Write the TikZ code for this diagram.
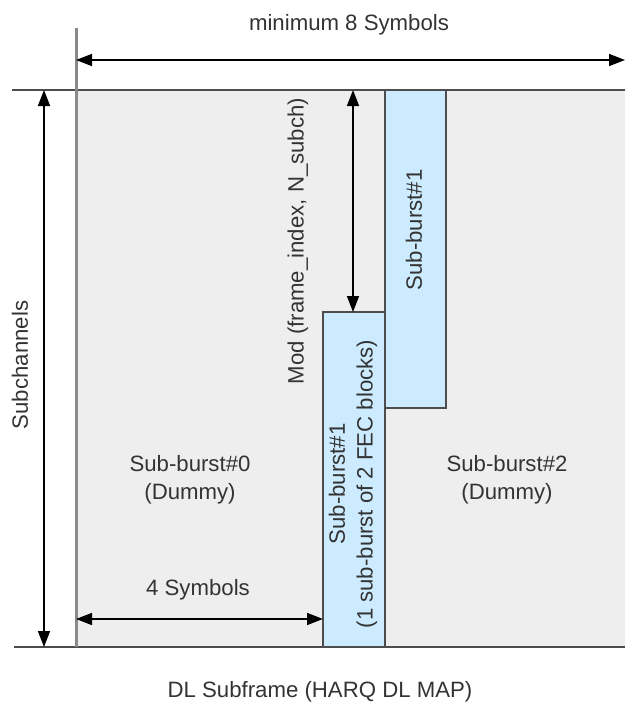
\documentclass[tikz,border=0pt]{standalone}
\usepackage{fontspec}
\setmainfont{Liberation Sans}
\usetikzlibrary{arrows.meta}
\definecolor{framegray}{HTML}{EEEEEE}
\definecolor{burstblue}{HTML}{CCEBFF}
\definecolor{linegray}{HTML}{4D4D4D}
\definecolor{axisgray}{HTML}{8A8A8A}
\definecolor{textgray}{HTML}{333333}
\begin{document}
\begin{tikzpicture}[x=0.5pt,y=-0.5pt,
  dim/.style={{Triangle[length=8pt,width=6pt]}-{Triangle[length=8pt,width=6pt]},line width=0.8pt},
  lbl/.style={text=textgray,font=\fontsize{11.1}{13.8}\selectfont,inner sep=0pt,align=center},
  burst/.style={draw=linegray,fill=burstblue,line width=0.8pt}]
\useasboundingbox (0,0) rectangle (625,709);
\pgfmathsetmacro{\xl}{76}
\pgfmathsetmacro{\xr}{625}
\pgfmathsetmacro{\yt}{90}
\pgfmathsetmacro{\yb}{647}
\pgfmathsetmacro{\xa}{323}
\pgfmathsetmacro{\xb}{385}
\pgfmathsetmacro{\xc}{446}
%
\fill[framegray](\xl,\yt)rectangle(\xr,\yb);
\draw[burst](\xa,312)rectangle(\xb,\yb);
\draw[burst](\xb,\yt)rectangle(\xc,408);
\draw[linegray,line width=1pt](12,\yt)--(\xr,\yt);
\draw[linegray,line width=1pt](14,\yb)--(\xr,\yb);
\draw[axisgray,line width=1.5pt](\xl,28)--(\xl,\yb);
%
\coordinate(symL)at(\xl,60);
\coordinate(symR)at(\xr,60);
\coordinate(subT)at(44,\yt);
\coordinate(subB)at(44,\yb);
\coordinate(modT)at(353,\yt);
\coordinate(modB)at(353,312);
\coordinate(fourL)at(\xl,619);
\coordinate(fourR)at(\xa,619);
\draw[dim](symL)--(symR);
\draw[dim](subT)--(subB);
\draw[dim](modT)--(modB);
\draw[dim](fourL)--(fourR);
%
\node[lbl](minsym)at(349,25){minimum 8 Symbols};
\node[lbl,rotate=90](subch)at(20,365){Subchannels};
\node[lbl,rotate=90](modlbl)at(298,241){Mod (frame\_index, N\_subch)};
\node[lbl,rotate=90](sb1up)at(414,230){Sub-burst\#1};
\node[lbl,rotate=90](sb1low)at(353,484){Sub-burst\#1\\(1 sub-burst of 2 FEC blocks)};
\node[lbl](sb0)at(190,480){Sub-burst\#0\\(Dummy)};
\node[lbl](sb2)at(507,480){Sub-burst\#2\\(Dummy)};
\node[lbl](four)at(198,590){4 Symbols};
\node[lbl](dlsub)at(320,692){DL Subframe (HARQ DL MAP)};
\end{tikzpicture}
\end{document}
